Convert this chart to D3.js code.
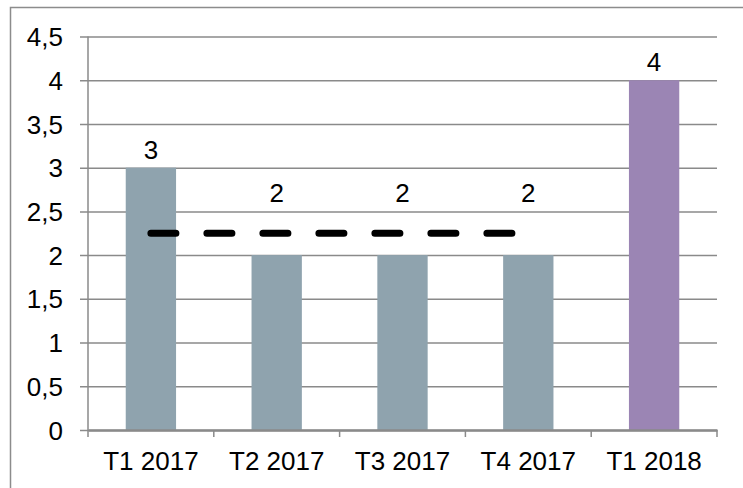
<!DOCTYPE html>
<html>
<head>
<meta charset="utf-8">
<script src="https://cdn.jsdelivr.net/npm/d3@7"></script>
<style>
  body { margin: 0; background: #fff; }
  svg { display: block; }
  text { font-family: "Liberation Sans", Arial, sans-serif; fill: #000; }
</style>
</head>
<body>
<div class="viz"></div>
<script>
// data
const categories = ["T1 2017", "T2 2017", "T3 2017", "T4 2017", "T1 2018"];
const values = [3, 2, 2, 2, 4];
const barColors = ["#8fa3ae", "#8fa3ae", "#8fa3ae", "#8fa3ae", "#9b85b4"];
const avgLine = [2.25, 2.25, 2.25, 2.25, null];
const yTicks = [0, 0.5, 1, 1.5, 2, 2.5, 3, 3.5, 4, 4.5];

const dimensions = {
    width: 743,
    height: 488,
    margin: { top: 36.5, right: 26, bottom: 58, left: 88 },
};
dimensions.boundedWidth = dimensions.width - dimensions.margin.left - dimensions.margin.right;
dimensions.boundedHeight = dimensions.height - dimensions.margin.top - dimensions.margin.bottom;

const fontSize = "26px";

const svg = d3.select(".viz")
    .append("svg")
    .attr("width", dimensions.width)
    .attr("height", dimensions.height);

// outer chart border (runs off the right and bottom edges)
svg.append("rect")
    .attr("x", 10.5).attr("y", 7.5)
    .attr("width", 800).attr("height", 600)
    .attr("fill", "none")
    .attr("stroke", "#8c8c8c")
    .attr("stroke-width", 1.5);

const bounds = svg.append("g")
    .attr("transform", `translate(${dimensions.margin.left},${dimensions.margin.top})`);

const xScale = d3.scaleBand()
    .domain(categories)
    .range([0, dimensions.boundedWidth]);

const yScale = d3.scaleLinear()
    .domain([0, 4.5])
    .range([dimensions.boundedHeight, 0]);

const fmt = d => String(d).replace(".", ",");

// gridlines + y axis
const yAxis = bounds.append("g")
    .call(d3.axisLeft(yScale)
        .tickValues(yTicks)
        .tickSize(-dimensions.boundedWidth)
        .tickSizeOuter(0)
        .tickFormat(fmt));
yAxis.select(".domain").remove();
yAxis.selectAll(".tick line")
    .attr("x1", -8)
    .attr("stroke", "#8a8a8a")
    .attr("stroke-width", 1.5);
yAxis.selectAll(".tick text")
    .attr("x", -25)
    .attr("dy", "0.35em")
    .style("font-size", fontSize)
    .style("font-family", "Liberation Sans, Arial, sans-serif");

// left axis line
bounds.append("line")
    .attr("x1", 0).attr("x2", 0)
    .attr("y1", 0).attr("y2", dimensions.boundedHeight)
    .attr("stroke", "#8a8a8a")
    .attr("stroke-width", 1.5);

// bars
bounds.selectAll("rect.bar")
    .data(values)
    .join("rect")
    .attr("class", "bar")
    .attr("x", (d, i) => xScale(categories[i]) + xScale.bandwidth() * 0.3)
    .attr("width", xScale.bandwidth() * 0.4)
    .attr("y", d => yScale(d))
    .attr("height", d => dimensions.boundedHeight - yScale(d))
    .attr("fill", (d, i) => barColors[i]);

// x axis
const xAxis = bounds.append("g")
    .attr("transform", `translate(0,${dimensions.boundedHeight})`)
    .call(d3.axisBottom(xScale).tickSize(0).tickSizeOuter(0));
xAxis.select(".domain")
    .attr("stroke", "#8a8a8a")
    .attr("stroke-width", 2.5);
xAxis.selectAll(".tick text")
    .attr("y", 40)
    .attr("dy", 0)
    .style("font-size", fontSize)
    .style("font-family", "Liberation Sans, Arial, sans-serif");
// tick marks between categories
const boundaries = categories.map(c => xScale(c)).concat([dimensions.boundedWidth]);
xAxis.selectAll("line.sep")
    .data(boundaries)
    .join("line")
    .attr("class", "sep")
    .attr("x1", d => d).attr("x2", d => d)
    .attr("y1", 0).attr("y2", 7)
    .attr("stroke", "#8a8a8a")
    .attr("stroke-width", 1.5);

// average dashed line
const lineGenerator = d3.line()
    .defined(d => d != null)
    .x((d, i) => xScale(categories[i]) + xScale.bandwidth() / 2)
    .y(d => yScale(d));
bounds.append("path")
    .attr("d", lineGenerator(avgLine))
    .attr("fill", "none")
    .attr("stroke", "#000")
    .attr("stroke-width", 7)
    .attr("stroke-linecap", "round")
    .attr("stroke-dasharray", "25,31");

// value labels (lifted above the dashed line where they would collide)
bounds.selectAll("text.val")
    .data(values)
    .join("text")
    .attr("class", "val")
    .attr("x", (d, i) => xScale(categories[i]) + xScale.bandwidth() / 2)
    .attr("y", (d, i) => {
        const top = avgLine[i] != null && avgLine[i] > d ? yScale(d + 0.5) : yScale(d);
        return top - 9;
    })
    .attr("text-anchor", "middle")
    .style("font-size", fontSize)
    .text(d => fmt(d));
</script>
</body>
</html>
